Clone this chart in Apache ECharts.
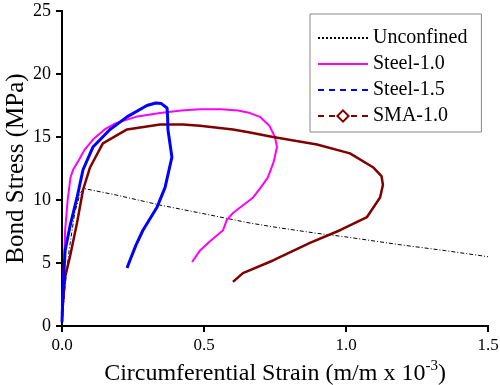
<!DOCTYPE html>
<html>
<head>
<meta charset="utf-8">
<script src="https://cdn.jsdelivr.net/npm/echarts@6/dist/echarts.min.js"></script>
<style>html,body{margin:0;padding:0;background:#fff;}#c{width:500px;height:385px;}</style>
</head>
<body>
<div id="c"></div>
<script>
var xTicks = [0, 0.5, 1.0, 1.5];
var yTicks = [0, 5, 10, 15, 20, 25];
var seriesNames = ['Unconfined', 'Steel-1.0', 'Steel-1.5', 'SMA-1.0'];

var unconfined = [[0,0],[0.01,3],[0.025,6],[0.045,9],[0.065,10.6],[0.08,10.9],[0.19,10.4],[0.345,9.6],[0.486,8.97],[0.662,8.17],[0.768,7.78],[0.9,7.35],[1.0,7.07],[1.19,6.45],[1.35,5.98],[1.5,5.5]];
var steel10 = [[0,0.5],[0.004,3.6],[0.008,5.5],[0.011,7.6],[0.02,10],[0.03,11.8],[0.039,12.4],[0.06,13.2],[0.08,14],[0.109,14.8],[0.15,15.6],[0.19,16.1],[0.26,16.6],[0.345,16.9],[0.42,17.1],[0.486,17.2],[0.56,17.2],[0.62,17.1],[0.662,16.9],[0.697,16.6],[0.73,15.9],[0.75,15.0],[0.757,14.2],[0.745,13],[0.725,11.8],[0.7,11],[0.673,10.2],[0.602,8.97],[0.58,8.4],[0.567,7.6],[0.52,6.7],[0.486,6.0],[0.458,5.08]];
var steel15 = [[0,0.3],[0.004,3],[0.011,6.0],[0.028,7.9],[0.053,10.2],[0.074,12.4],[0.109,14.2],[0.169,15.6],[0.229,16.6],[0.299,17.5],[0.33,17.7],[0.35,17.65],[0.37,17.3],[0.372,16.5],[0.373,15.6],[0.38,14.5],[0.387,13.4],[0.375,12.2],[0.363,11.0],[0.334,9.4],[0.285,7.6],[0.26,6.4],[0.239,5.2],[0.229,4.6]];
var sma10 = [[0,1],[0.006,2.5],[0.011,3.9],[0.028,5.5],[0.053,8.2],[0.074,10.8],[0.099,12.6],[0.144,14.5],[0.229,15.6],[0.345,16.0],[0.426,16.0],[0.486,15.9],[0.602,15.6],[0.662,15.35],[0.743,15.0],[0.898,14.4],[1.014,13.7],[1.095,12.6],[1.125,11.9],[1.13,11.2],[1.12,10.2],[1.074,8.65],[0.979,7.6],[0.873,6.6],[0.743,5.2],[0.637,4.2],[0.602,3.5]];

var FONT = "Liberation Serif";
var chart = echarts.init(document.getElementById('c'));
var axisCommon = {
  axisLine: {show: true, lineStyle: {color: '#000', width: 2}},
  splitLine: {show: false}
};
var hidden = {color: 'transparent', borderColor: 'transparent', borderWidth: 0};
chart.setOption({
  animation: false,
  backgroundColor: '#fff',
  textStyle: {fontFamily: FONT},
  grid: {left: 62, right: 12, top: 11, bottom: 59, containLabel: false, outerBoundsMode: 'none'},
  legend: {
    orient: 'vertical', left: 310, top: 14,
    data: seriesNames,
    backgroundColor: '#fff', borderColor: '#888', borderWidth: 1,
    padding: [14, 14, 6, 7], itemGap: 6, itemWidth: 50, itemHeight: 14,
    textStyle: {fontFamily: FONT, fontSize: 20, color: '#000', lineHeight: 20},
    selectedMode: false
  },
  xAxis: [Object.assign({
    type: 'value', min: xTicks[0], max: xTicks[xTicks.length-1], interval: 0.5,
    position: 'bottom',
    axisTick: {show: true, length: 6, lineStyle: {color: '#000', width: 2}},
    axisLabel: {color: '#000', fontFamily: FONT, fontSize: 17, margin: 11,
      formatter: function(v){return '{t|' + v.toFixed(1) + '}';},
      rich: {t: {fontFamily: FONT, fontSize: 17, color: '#000'}}},
    name: '{a|Circumferential Strain (m/m x 10}{s|-3}{a|)}',
    nameLocation: 'middle', nameGap: 32,
    nameTextStyle: {fontFamily: FONT, rich: {
      a: {fontFamily: FONT, fontSize: 24, color: '#000', verticalAlign: 'bottom', lineHeight: 27},
      s: {fontFamily: FONT, fontSize: 15, color: '#000', verticalAlign: 'top', lineHeight: 27, padding: [0,0,14,0]}
    }}
  }, axisCommon), Object.assign({
    type: 'value', min: 0, max: 1.5, position: 'top',
    axisTick: {show: false}, axisLabel: {show: false}
  }, axisCommon)],
  yAxis: [Object.assign({
    type: 'value', min: yTicks[0], max: yTicks[yTicks.length-1], interval: 5,
    position: 'left',
    axisTick: {show: true, length: 6, lineStyle: {color: '#000', width: 2}},
    axisLabel: {color: '#000', fontFamily: FONT, fontSize: 18, margin: 11,
      formatter: function(v){return '{t|' + v + '}';},
      rich: {t: {fontFamily: FONT, fontSize: 18, color: '#000'}}},
    name: 'Bond Stress (MPa)', nameLocation: 'middle', nameGap: 33, nameMoveOverlap: false,
    nameTextStyle: {fontFamily: FONT, fontSize: 25, color: '#000'}
  }, axisCommon), Object.assign({
    type: 'value', min: 0, max: 25, position: 'right',
    axisTick: {show: false}, axisLabel: {show: false}
  }, axisCommon)],
  series: [
    {name: 'unconfined-data', type: 'line', data: unconfined, symbol: 'none', z: 2,
      lineStyle: {color: '#000', width: 1, type: [4, 2, 1, 2]}},
    {name: 'steel10-data', type: 'line', data: steel10, symbol: 'none', z: 3,
      lineStyle: {color: '#ff00ff', width: 2}},
    {name: 'steel15-data', type: 'line', data: steel15, symbol: 'none', z: 4,
      lineStyle: {color: '#0000ff', width: 3}},
    {name: 'sma10-data', type: 'line', data: sma10, symbol: 'none', z: 3,
      lineStyle: {color: '#800000', width: 2.5}},
    {name: seriesNames[0], type: 'line', data: [], symbol: 'circle',
      itemStyle: hidden, lineStyle: {color: '#000', width: 1, type: [2, 2]}},
    {name: seriesNames[1], type: 'line', data: [], symbol: 'circle',
      itemStyle: hidden, lineStyle: {color: '#ff00ff', width: 1}},
    {name: seriesNames[2], type: 'line', data: [], symbol: 'circle',
      itemStyle: hidden, lineStyle: {color: '#0000ff', width: 1.5, type: [6, 5]}},
    {name: seriesNames[3], type: 'line', data: [], symbol: 'emptyDiamond', symbolSize: 7,
      itemStyle: {color: '#800000'}, lineStyle: {color: '#800000', width: 1.5, type: [6, 5]}}
  ]
});
</script>
</body>
</html>
